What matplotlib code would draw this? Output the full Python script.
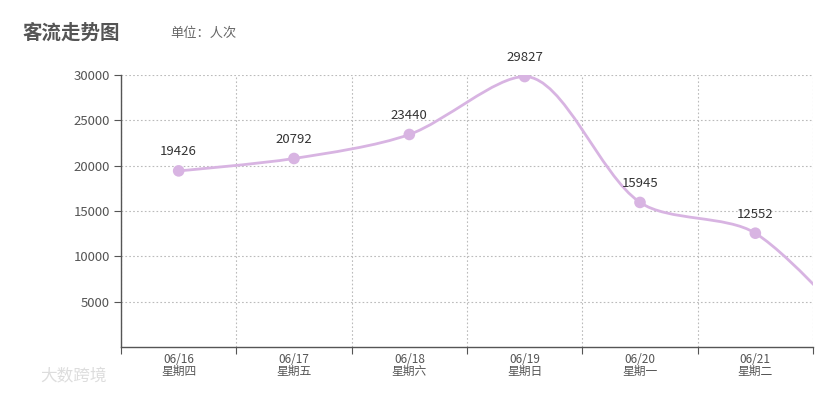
import numpy as np
import matplotlib
matplotlib.use("Agg")
import matplotlib.pyplot as plt
from matplotlib.path import Path
from matplotlib.patches import PathPatch

plt.rcParams['font.family'] = ['Noto Sans CJK SC', 'DejaVu Sans']

dates = ["06/16", "06/17", "06/18", "06/19", "06/20", "06/21"]
weekdays = ["星期四", "星期五", "星期六", "星期日", "星期一", "星期二"]
visitors = [19426, 20792, 23440, 29827, 15945, 12552]
# next day runs off the right edge of the chart
next_day = 0

LINE = '#d8b4e2'
AXIS = '#555555'
TEXT = '#555555'


def smooth_path(xs, ys, sx, sy, smooth=0.3):
    # bezier smoothing in pixel space with clamped control points (echarts style)
    px = np.asarray(xs, float) * sx
    py = np.asarray(ys, float) * sy
    n = len(px)
    cp_in = [(px[0], py[0])] * n
    cp_out = [(px[0], py[0])] * n
    for i in range(n):
        x, y = px[i], py[i]
        if i == 0 or i == n - 1:
            cp_in[i] = (x, y)
            cp_out[i] = (x, y)
            continue
        x0, y0 = px[i - 1], py[i - 1]
        x1, y1 = px[i + 1], py[i + 1]
        vx, vy = x1 - x0, y1 - y0
        l0 = np.hypot(x - x0, y - y0)
        l1 = np.hypot(x1 - x, y1 - y)
        r = l1 / (l0 + l1)
        nx = x + vx * smooth * r
        ny = y + vy * smooth * r
        nx = max(min(nx, max(x1, x)), min(x1, x))
        ny = max(min(ny, max(y1, y)), min(y1, y))
        vx, vy = nx - x, ny - y
        cx = x - vx * l0 / l1
        cy = y - vy * l0 / l1
        cx = max(min(cx, max(x0, x)), min(x0, x))
        cy = max(min(cy, max(y0, y)), min(y0, y))
        vx, vy = x - cx, y - cy
        nx = x + vx * l1 / l0
        ny = y + vy * l1 / l0
        cp_in[i] = (cx, cy)
        cp_out[i] = (nx, ny)
    verts = [(px[0], py[0])]
    codes = [Path.MOVETO]
    for i in range(n - 1):
        verts += [cp_out[i], cp_in[i + 1], (px[i + 1], py[i + 1])]
        codes += [Path.CURVE4] * 3
    verts = [(x / sx, y / sy) for x, y in verts]
    return Path(verts, codes)


fig = plt.figure(figsize=(8.15, 3.93), dpi=100)
ax = fig.add_axes([121 / 815, 46 / 393, 692 / 815, 272 / 393])

xs = np.arange(len(visitors))
ax.set_xlim(-0.5, len(visitors) - 0.5)
ax.set_ylim(0, 30000)

all_x = list(xs) + [len(visitors)]
all_y = visitors + [next_day]
path = smooth_path(all_x, all_y, 115.3, 272 / 30000)
ax.add_patch(PathPatch(path, facecolor='none', edgecolor=LINE, lw=2, zorder=3))
ax.scatter(xs, visitors, s=70, color=LINE, zorder=4, edgecolors='none')

for x, v in zip(xs, visitors):
    ax.annotate(str(v), (x, v), xytext=(0, 9), textcoords='offset points',
                ha='center', va='bottom', fontsize=9.5, color='#333333')

ax.set_yticks(range(5000, 30001, 5000))
ax.set_xticks(np.arange(-0.5, len(visitors), 1.0))
ax.set_xticklabels([])
ax.set_xticks(xs, minor=True)
ax.set_xticklabels([f"{d}\n{w}" for d, w in zip(dates, weekdays)], minor=True)
ax.tick_params(axis='x', which='minor', length=0, pad=4, labelsize=8.5, labelcolor=TEXT)
ax.tick_params(axis='x', which='major', length=5, color=AXIS)
ax.tick_params(axis='y', length=5, color=AXIS, labelsize=9.5, labelcolor=TEXT, pad=3)
for lbl in ax.get_xticklabels(minor=True):
    lbl.set_linespacing(0.95)

ax.grid(True, which='major', color='#bbbbbb', linestyle=(0, (1.5, 2)), lw=0.8)
ax.set_axisbelow(True)
for s in ['top', 'right']:
    ax.spines[s].set_visible(False)
for s in ['left', 'bottom']:
    ax.spines[s].set_color(AXIS)
    ax.spines[s].set_linewidth(1)

fig.text(22 / 815, 1 - 33 / 393, "客流走势图", fontsize=14, fontweight='bold',
         color=TEXT, va='center', ha='left')
fig.text(170 / 815, 1 - 33 / 393, "单位：人次", fontsize=9.5, color='#666666',
         va='center', ha='left')
fig.text(40 / 815, 1 - 377 / 393, "大数跨境", fontsize=12, color='#dddddd',
         va='center', ha='left')

fig.savefig("out.png", dpi=100)
